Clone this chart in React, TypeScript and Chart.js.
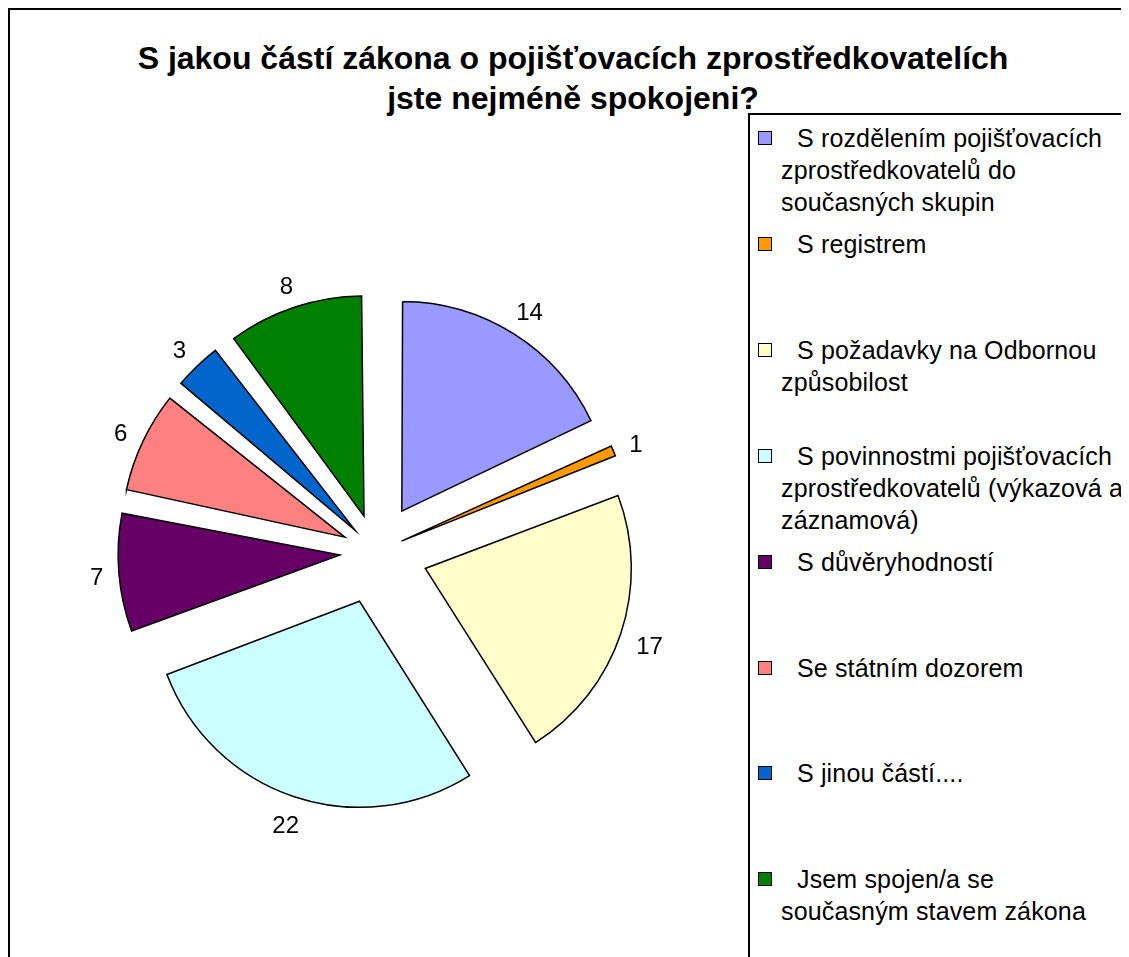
import React, { useEffect, useRef } from "react";
import { Chart, registerables } from "chart.js";

Chart.register(...registerables);

const titleLines = [
  "S jakou částí zákona o pojišťovacích zprostředkovatelích",
  "jste nejméně spokojeni?",
];

const categories = [
  "S rozdělením pojišťovacích\nzprostředkovatelů do\nsoučasných skupin",
  "S registrem",
  "S požadavky na Odbornou\nzpůsobilost",
  "S povinnostmi pojišťovacích\nzprostředkovatelů (výkazová a\nzáznamová)",
  "S důvěryhodností",
  "Se státním dozorem",
  "S jinou částí....",
  "Jsem spojen/a se\nsoučasným stavem zákona",
];

const values = [14, 1, 17, 22, 7, 6, 3, 8];

const colors = [
  "#9999FF",
  "#FF9900",
  "#FFFFCC",
  "#CCFFFF",
  "#660066",
  "#FF8080",
  "#0066CC",
  "#008000",
];

const FONT = '"Liberation Sans", Arial, Helvetica, sans-serif';
const EXPLODE = 53; // px each slice is pulled out
const RADIUS = 205;

// Chart.js moves an arc by offset/4 * (2 - sin(min(PI, circumference)));
// invert that so every slice is pulled out by the same distance.
function sliceCircumference(i: number, data: number[]) {
  const total = data.reduce((a, b) => a + b, 0);
  return (data[i] / total) * Math.PI * 2;
}
function offsetFor(circ: number) {
  return (4 * EXPLODE) / (2 - Math.sin(Math.min(Math.PI, circ)));
}

const valueLabelPlugin = {
  id: "valueLabels",
  afterDatasetsDraw(chart: any) {
    const ctx = chart.ctx;
    const meta = chart.getDatasetMeta(0);
    const data = chart.data.datasets[0].data as number[];
    ctx.save();
    ctx.font = `24px ${FONT}`;
    ctx.fillStyle = "#000";
    ctx.textAlign = "center";
    ctx.textBaseline = "middle";
    meta.data.forEach((arc: any, i: number) => {
      const p = arc.getProps(["x", "y", "startAngle", "endAngle", "outerRadius"], true);
      const mid = (p.startAngle + p.endAngle) / 2;
      const c = Math.cos(mid);
      const s = Math.sin(mid);
      const text = String(data[i]);
      const w = ctx.measureText(text).width;
      const h = 17;
      const d = p.outerRadius + EXPLODE + 15 + (Math.abs(c) * w) / 2 + (Math.abs(s) * h) / 2;
      ctx.fillText(text, p.x + c * d, p.y + s * d + 4);
    });
    ctx.restore();
  },
};

export default function App() {
  const canvasRef = useRef<HTMLCanvasElement | null>(null);

  useEffect(() => {
    if (!canvasRef.current) return;
    const chart = new Chart(canvasRef.current, {
      type: "pie",
      data: {
        labels: categories,
        datasets: [
          {
            data: values,
            backgroundColor: colors,
            borderColor: "#000",
            borderWidth: 1.5,
            borderJoinStyle: "miter",
            offset: (ctx: any) => offsetFor(sliceCircumference(ctx.dataIndex, values)),
            radius: RADIUS,
          } as any,
        ],
      },
      options: {
        responsive: false,
        animation: false,
        events: [],
        layout: { padding: 0 },
        plugins: {
          legend: { display: false },
          tooltip: { enabled: false },
          title: { display: false },
        },
      },
      plugins: [valueLabelPlugin],
    });
    return () => chart.destroy();
  }, []);

  return (
    <div
      style={{
        position: "relative",
        width: 1121,
        height: 949,
        boxSizing: "border-box",
        borderLeft: "2px solid #000",
        borderTop: "2px solid #000",
        overflow: "hidden",
        background: "#fff",
        fontFamily: FONT,
      }}
    >
      <div
        style={{
          position: "absolute",
          left: 0,
          top: 28,
          width: 1126,
          textAlign: "center",
          fontWeight: "bold",
          fontSize: 32,
          lineHeight: "40px",
          color: "#000",
          whiteSpace: "nowrap",
        }}
      >
        {titleLines.map((t, i) => (
          <div key={i}>{t}</div>
        ))}
      </div>
      <canvas
        ref={canvasRef}
        width={720}
        height={720}
        style={{ position: "absolute", left: 6, top: 182, width: 720, height: 720 }}
      />
      <div
        style={{
          position: "absolute",
          left: 738,
          top: 103,
          right: 0,
          bottom: 0,
          borderLeft: "2px solid #000",
          borderTop: "2px solid #000",
        }}
      >
        {categories.map((c, i) => (
          <React.Fragment key={i}>
            <div
              style={{
                position: "absolute",
                left: 8,
                top: 16 + i * 105.9,
                width: 12,
                height: 12,
                border: "1px solid #000",
                background: colors[i],
              }}
            />
            <div
              style={{
                position: "absolute",
                left: 31,
                top: 7 + i * 105.9,
                fontSize: 25,
                lineHeight: "32px",
                letterSpacing: "0.15px",
                textIndent: 16,
                whiteSpace: "pre-line",
                color: "#000",
              }}
            >
              {c}
            </div>
          </React.Fragment>
        ))}
      </div>
    </div>
  );
}
